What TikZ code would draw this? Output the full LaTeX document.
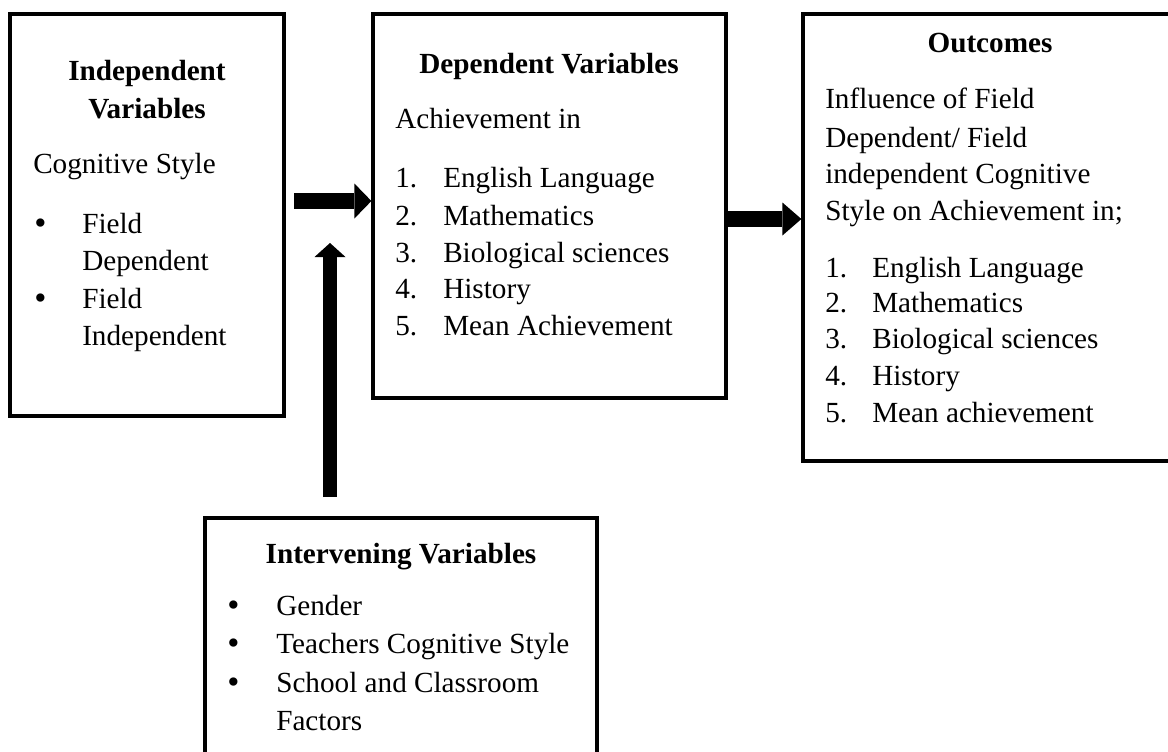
\documentclass[tikz,border=0pt]{standalone}
\usepackage{fontspec}
\setmainfont{Liberation Serif}
\usetikzlibrary{arrows.meta}
\begin{document}
\begin{tikzpicture}[x=0.75pt,y=-0.75pt,
  box/.style={draw, line width=2.4pt, rectangle, inner sep=0pt},
  txt/.style={anchor=base west, inner sep=0pt, font=\fontsize{21.9}{26}\selectfont},
  bul/.style={anchor=base west, inner sep=0pt, font=\fontsize{26}{26}\selectfont},
  ttl/.style={anchor=base, inner sep=0pt, font=\fontsize{21.9}{26}\selectfont\bfseries},
  blkarrow/.style={line width=12pt, -{Triangle[length=12.75pt,width=26.25pt,line width=0pt]}}]
\fill[white] (0,0) rectangle (1168,751);
\useasboundingbox (0,0) rectangle (1168,751);
\clip (0,0) rectangle (1168,751);

% boxes
\node[box, minimum width=274*0.75pt, minimum height=402*0.75pt] (indep) at (147,215) {};
\node[box, minimum width=353*0.75pt, minimum height=384*0.75pt] (dep) at (549.5,206) {};
\node[box, minimum width=377*0.75pt, minimum height=447*0.75pt] (outc) at (991.5,237.5) {};
\node[box, minimum width=392*0.75pt, minimum height=252*0.75pt] (interv) at (401,644) {};

% box 1 text
\node[ttl] (i1) at (147,80) {Independent};
\node[ttl] (i2) at (147,118) {Variables};
\node[txt] (i3) at (33,173) {Cognitive Style};
\node[bul] (ib1) at (34,234) {•};
\node[txt] (i4) at (82,233) {Field};
\node[txt] (i5) at (82,270) {Dependent};
\node[bul] (ib2) at (34,309) {•};
\node[txt] (i6) at (82,308) {Field};
\node[txt] (i7) at (82,345) {Independent};

% box 2 text
\node[ttl] (d1) at (549,73) {Dependent Variables};
\node[txt] (d2) at (395,128) {Achievement in};
\node[txt] (dn1) at (395,187) {1.};
\node[txt] (dt1) at (443,187) {English Language};
\node[txt] (dn2) at (395,225) {2.};
\node[txt] (dt2) at (443,225) {Mathematics};
\node[txt] (dn3) at (395,262) {3.};
\node[txt] (dt3) at (443,262) {Biological sciences};
\node[txt] (dn4) at (395,298) {4.};
\node[txt] (dt4) at (443,298) {History};
\node[txt] (dn5) at (395,335) {5.};
\node[txt] (dt5) at (443,335) {Mean Achievement};

% box 3 text
\node[ttl] (o1) at (990,52) {Outcomes};
\node[txt] (o2) at (825,108) {Influence of Field};
\node[txt] (o3) at (825,147) {Dependent/ Field};
\node[txt] (o4) at (825,183) {independent Cognitive};
\node[txt] (o5) at (825,220) {Style on Achievement in;};
\node[txt] (on1) at (825,277) {1.};
\node[txt] (ot1) at (872,277) {English Language};
\node[txt] (on2) at (825,312) {2.};
\node[txt] (ot2) at (872,312) {Mathematics};
\node[txt] (on3) at (825,348) {3.};
\node[txt] (ot3) at (872,348) {Biological sciences};
\node[txt] (on4) at (825,385) {4.};
\node[txt] (ot4) at (872,385) {History};
\node[txt] (on5) at (825,422) {5.};
\node[txt] (ot5) at (872,422) {Mean achievement};

% box 4 text
\node[ttl] (v1) at (401,563) {Intervening Variables};
\node[bul] (vb1) at (227,616) {•};
\node[txt] (v2) at (276,615) {Gender};
\node[bul] (vb2) at (227,654) {•};
\node[txt] (v3) at (276,653) {Teachers Cognitive Style};
\node[bul] (vb3) at (227,693) {•};
\node[txt] (v4) at (276,692) {School and Classroom};
\node[txt] (v5) at (276,730) {Factors};

% arrows
\coordinate (a1s) at (294,201);
\draw[blkarrow] (a1s) -- (dep.west |- a1s);
\coordinate (a2s) at (726,219);
\draw[blkarrow, -{Triangle[length=14.25pt,width=24.75pt,line width=0pt]}] (a2s) -- (outc.west |- a2s);
\coordinate (a3s) at (330,497);
\coordinate (a3t) at (330,243);
\draw[line width=10.5pt, -{Triangle[length=10.5pt,width=23.25pt,line width=0pt]}] (a3s) -- (a3t);
\end{tikzpicture}
\end{document}
